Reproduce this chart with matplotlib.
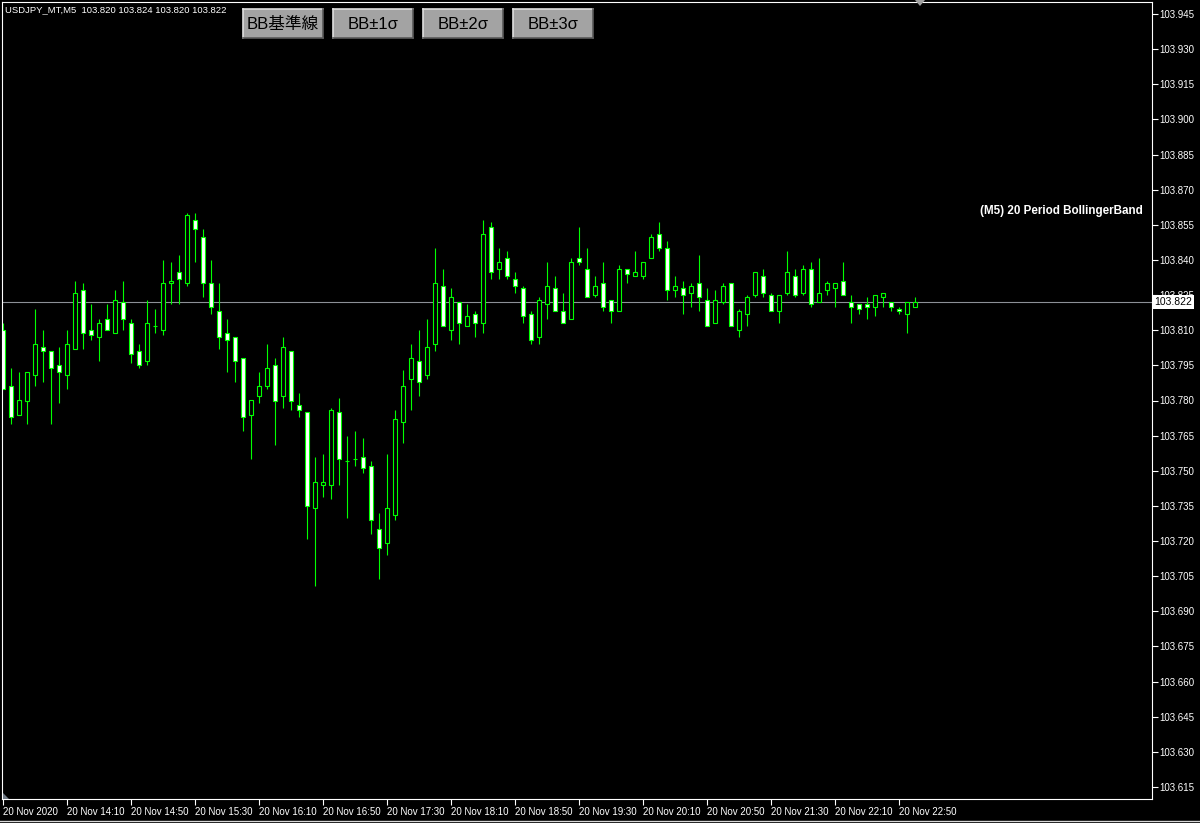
import matplotlib
matplotlib.use("Agg")
import matplotlib.pyplot as plt
import matplotlib.transforms as mtransforms
from matplotlib.patches import Rectangle, Polygon
from matplotlib.lines import Line2D
from matplotlib.ticker import FormatStrFormatter
import numpy as np

# USDJPY M5 candles, 20 Nov 2020 13:30 .. 23:00
opens = [103.810, 103.786, 103.774, 103.780, 103.791, 103.803, 103.801, 103.795, 103.791, 103.802,
         103.827, 103.810, 103.807, 103.815, 103.809, 103.822, 103.813, 103.801, 103.797, 103.812,
         103.810, 103.830, 103.835, 103.830, 103.857, 103.850, 103.830, 103.818, 103.809, 103.807,
         103.798, 103.774, 103.782, 103.786, 103.795, 103.782, 103.801, 103.778, 103.775, 103.734,
         103.744, 103.744, 103.775, 103.754, 103.755, 103.756, 103.752, 103.725, 103.719, 103.731,
         103.771, 103.789, 103.797, 103.791, 103.804, 103.829, 103.810, 103.822, 103.812, 103.817,
         103.813, 103.854, 103.836, 103.841, 103.832, 103.828, 103.817, 103.807, 103.821, 103.828,
         103.818, 103.815, 103.841, 103.836, 103.825, 103.830, 103.823, 103.818, 103.836, 103.833,
         103.833, 103.841, 103.851, 103.845, 103.827, 103.828, 103.826, 103.830, 103.823, 103.813,
         103.822, 103.830, 103.810, 103.817, 103.825, 103.833, 103.825, 103.818, 103.826, 103.833,
         103.826, 103.836, 103.822, 103.827, 103.828, 103.831, 103.822, 103.821, 103.821, 103.820,
         103.824, 103.822, 103.819, 103.817, 103.820]
highs = [103.813, 103.794, 103.792, 103.792, 103.819, 103.810, 103.801, 103.803, 103.810, 103.831,
         103.830, 103.821, 103.815, 103.821, 103.827, 103.831, 103.815, 103.804, 103.823, 103.819,
         103.840, 103.839, 103.842, 103.860, 103.860, 103.853, 103.840, 103.830, 103.815, 103.807,
         103.798, 103.780, 103.792, 103.804, 103.798, 103.807, 103.801, 103.783, 103.775, 103.756,
         103.757, 103.777, 103.781, 103.765, 103.767, 103.764, 103.754, 103.732, 103.757, 103.776,
         103.793, 103.804, 103.810, 103.815, 103.845, 103.836, 103.828, 103.822, 103.821, 103.818,
         103.857, 103.856, 103.845, 103.844, 103.835, 103.829, 103.818, 103.824, 103.839, 103.833,
         103.826, 103.841, 103.854, 103.845, 103.833, 103.839, 103.823, 103.838, 103.836, 103.844,
         103.839, 103.851, 103.856, 103.848, 103.833, 103.831, 103.830, 103.842, 103.828, 103.827,
         103.830, 103.830, 103.819, 103.825, 103.835, 103.836, 103.826, 103.825, 103.844, 103.836,
         103.838, 103.839, 103.841, 103.831, 103.830, 103.839, 103.825, 103.821, 103.824, 103.825,
         103.826, 103.822, 103.820, 103.822, 103.824]
lows = [103.785, 103.770, 103.774, 103.770, 103.786, 103.788, 103.770, 103.779, 103.785, 103.802,
        103.802, 103.806, 103.797, 103.810, 103.809, 103.810, 103.796, 103.794, 103.795, 103.809,
        103.808, 103.821, 103.821, 103.829, 103.839, 103.824, 103.817, 103.802, 103.792, 103.788,
        103.767, 103.755, 103.779, 103.785, 103.761, 103.777, 103.776, 103.773, 103.721, 103.701,
        103.739, 103.738, 103.744, 103.730, 103.752, 103.749, 103.723, 103.704, 103.714, 103.729,
        103.762, 103.776, 103.782, 103.789, 103.801, 103.812, 103.806, 103.804, 103.812, 103.807,
        103.809, 103.832, 103.832, 103.832, 103.826, 103.813, 103.804, 103.804, 103.815, 103.818,
        103.813, 103.815, 103.838, 103.824, 103.824, 103.818, 103.813, 103.818, 103.830, 103.833,
        103.832, 103.841, 103.844, 103.823, 103.824, 103.817, 103.820, 103.818, 103.812, 103.813,
        103.821, 103.812, 103.807, 103.812, 103.824, 103.824, 103.818, 103.813, 103.825, 103.824,
        103.825, 103.820, 103.822, 103.825, 103.820, 103.825, 103.813, 103.817, 103.815, 103.816,
        103.820, 103.818, 103.817, 103.809, 103.820]
closes = [103.785, 103.773, 103.780, 103.792, 103.804, 103.801, 103.794, 103.792, 103.804, 103.826,
          103.809, 103.808, 103.813, 103.810, 103.823, 103.815, 103.800, 103.795, 103.813, 103.812,
          103.830, 103.831, 103.832, 103.859, 103.853, 103.830, 103.820, 103.807, 103.806, 103.797,
          103.773, 103.780, 103.786, 103.794, 103.780, 103.803, 103.780, 103.776, 103.735, 103.745,
          103.745, 103.776, 103.755, 103.754, 103.755, 103.751, 103.729, 103.717, 103.734, 103.772,
          103.786, 103.798, 103.788, 103.803, 103.830, 103.812, 103.824, 103.813, 103.816, 103.813,
          103.851, 103.835, 103.839, 103.833, 103.829, 103.816, 103.806, 103.823, 103.829, 103.818,
          103.813, 103.839, 103.839, 103.824, 103.829, 103.820, 103.818, 103.836, 103.834, 103.835,
          103.839, 103.850, 103.845, 103.827, 103.829, 103.825, 103.829, 103.824, 103.812, 103.823,
          103.829, 103.812, 103.818, 103.824, 103.835, 103.826, 103.818, 103.825, 103.835, 103.825,
          103.836, 103.821, 103.826, 103.830, 103.830, 103.825, 103.820, 103.819, 103.820, 103.825,
          103.826, 103.820, 103.818, 103.822, 103.822]

price_ticks = [103.945, 103.930, 103.915, 103.900, 103.885, 103.870, 103.855, 103.840, 103.825,
               103.810, 103.795, 103.780, 103.765, 103.750, 103.735, 103.720, 103.705, 103.690,
               103.675, 103.660, 103.645, 103.630, 103.615]
time_tick_bars = [0, 8, 16, 24, 32, 40, 48, 56, 64, 72, 80, 88, 96, 104, 112]
time_tick_labels = ["20 Nov 2020", "20 Nov 14:10", "20 Nov 14:50", "20 Nov 15:30", "20 Nov 16:10",
                    "20 Nov 16:50", "20 Nov 17:30", "20 Nov 18:10", "20 Nov 18:50", "20 Nov 19:30",
                    "20 Nov 20:10", "20 Nov 20:50", "20 Nov 21:30", "20 Nov 22:10", "20 Nov 22:50"]
buttons = ["BB基準線", "BB±1σ", "BB±2σ", "BB±3σ"]
header = "USDJPY_MT,M5  103.820 103.824 103.820 103.822"
label = "(M5) 20 Period BollingerBand"

plt.rcParams["font.family"] = ["Liberation Sans", "DejaVu Sans"]
GREEN = "#00ff00"
W, H = 1200, 823

fig = plt.figure(figsize=(12, 8.23), dpi=100, facecolor="black")
ax = fig.add_axes([2 / W, 1 - 799 / H, 1150 / W, 797 / H])
ax.set_facecolor("black")


def fx(x):
    return x / W


def fy(y):
    return 1 - y / H


o = np.array(opens)
c = np.array(closes)
xs = np.arange(len(o))
up = c >= o

# wicks then bodies (bull = black body, bear = white body)
ax.vlines(xs, lows, highs, color=GREEN, lw=0.8, zorder=1)
ax.bar(xs, np.abs(c - o), bottom=np.minimum(o, c), width=0.5,
       color=np.where(up, "black", "white"), edgecolor=GREEN, linewidth=0.8, zorder=2)

# last price line + tag (tag sits over the 103.825 label like in MT4)
last = closes[-1]
ax.axhline(last, color="#8c9096", lw=0.8, zorder=0)
trans = mtransforms.blended_transform_factory(ax.transAxes, ax.transData)
ax.text(1.0015, last, "%.3f" % last, transform=trans, ha="left", va="center", fontsize=7.5,
        color="black", clip_on=False, zorder=10,
        bbox=dict(boxstyle="square,pad=0.2", facecolor="white", edgecolor="none"))

ax.set_xlim(-0.125, 143.625)
ax.set_ylim(103.6099, 103.9501)

ax.yaxis.tick_right()
ax.set_yticks(price_ticks)
ax.yaxis.set_major_formatter(FormatStrFormatter("%.3f"))
ax.tick_params(axis="y", colors="white", length=4, width=0.8, pad=1.5, labelsize=7)

ax.set_xticks(time_tick_bars)
ax.set_xticklabels(time_tick_labels)
ax.tick_params(axis="x", colors="white", length=4, width=0.8, pad=1.5, labelsize=7)
for t in ax.get_xticklabels():
    t.set_ha("left")

for s in ax.spines.values():
    s.set_color("white")
    s.set_linewidth(0.8)

# header + label text
fig.text(fx(5), fy(10), header, color="white", fontsize=6.8, va="center", ha="left")
fig.text(fx(1143), fy(211), label, color="white", fontsize=8.4, fontweight="bold",
         va="center", ha="right")

# buttons
for i, b in enumerate(buttons):
    x0 = 243 + 90 * i
    y0, bw, bh = 9, 80, 29
    fig.patches.append(Rectangle((fx(x0), fy(y0 + bh)), bw / W, bh / H, transform=fig.transFigure,
                                 facecolor="#a3a3a3", edgecolor="none"))
    fig.lines.append(Line2D([fx(x0), fx(x0 + bw)], [fy(y0), fy(y0)], transform=fig.transFigure,
                            color="#e0e0e0", lw=1.2))
    fig.lines.append(Line2D([fx(x0), fx(x0)], [fy(y0), fy(y0 + bh)], transform=fig.transFigure,
                            color="#e0e0e0", lw=1.2))
    fig.lines.append(Line2D([fx(x0), fx(x0 + bw)], [fy(y0 + bh), fy(y0 + bh)],
                            transform=fig.transFigure, color="#5a5a5a", lw=1.2))
    fig.lines.append(Line2D([fx(x0 + bw), fx(x0 + bw)], [fy(y0), fy(y0 + bh)],
                            transform=fig.transFigure, color="#5a5a5a", lw=1.2))
    fig.text(fx(x0 + bw / 2), fy(y0 + bh / 2 + 1), b, ha="center", va="center", fontsize=12,
             color="black", family=["Liberation Sans", "Noto Sans CJK JP", "DejaVu Sans"])

# chart shift marker and window edge
fig.patches.append(Polygon([(fx(915), fy(0)), (fx(925), fy(0)), (fx(920), fy(6))],
                           closed=True, transform=fig.transFigure, facecolor="#a0a0a0",
                           edgecolor="none"))
fig.patches.append(Polygon([(fx(3), fy(793)), (fx(3), fy(799)), (fx(9), fy(799))],
                           closed=True, transform=fig.transFigure, facecolor="#707a85",
                           edgecolor="none"))
fig.lines.append(Line2D([0, 1], [fy(821), fy(821)], transform=fig.transFigure,
                        color="#d8d8d8", lw=1.0))

fig.savefig("out.png", dpi=100, facecolor="black")
